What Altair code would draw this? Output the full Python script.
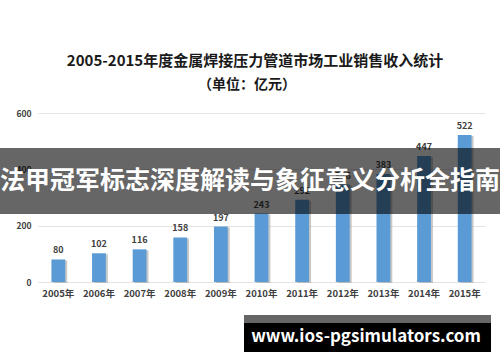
import altair as alt
import pandas as pd

years = ["2005年", "2006年", "2007年", "2008年", "2009年", "2010年",
         "2011年", "2012年", "2013年", "2014年", "2015年"]
values = [80, 102, 116, 158, 197, 243, 292, 346, 383, 447, 522]
y_ticks = [0, 100, 200, 300, 400, 500, 600]

title = "2005-2015年度金属焊接压力管道市场工业销售收入统计"
subtitle = "（单位：亿元）"
banner = "法甲冠军标志深度解读与象征意义分析全指南"
watermark = "www.ios-pgsimulators.com"

FONT = "Noto Sans CJK SC"

df = pd.DataFrame({"year": years, "value": values})

xenc = alt.X("year:N", sort=years,
             scale=alt.Scale(paddingInner=0.66, paddingOuter=0.33),
             axis=alt.Axis(title=None, labelAngle=0, domain=False, ticks=False,
                           labelFont=FONT, labelFontSize=9.5, labelFontWeight="bold",
                           labelColor="#404040", labelPadding=6))
yenc = alt.Y("value:Q", scale=alt.Scale(domain=[0, 600], nice=False),
             axis=alt.Axis(title=None, values=y_ticks, domain=False, ticks=False,
                           labelFont=FONT, labelFontSize=8.5, labelFontWeight="bold",
                           labelColor="#404040", labelPadding=7,
                           gridColor="#e3e3e3", gridWidth=1))

base = alt.Chart(df)

shadow = base.mark_bar(color="#9a9a9a", opacity=0.55, xOffset=2, yOffset=1).encode(
    x=xenc, y=yenc)
bars = base.mark_bar(color="#5B9BD5").encode(x=xenc, y=yenc)
labels = base.mark_text(font=FONT, fontSize=9, fontWeight="bold", color="#404040",
                        baseline="bottom", dy=-4).encode(
    x=alt.X("year:N", sort=years), y="value:Q", text="value:Q")

one = pd.DataFrame({"t": [0]})

def txt(s, x, y, size, weight="bold", color="#262626", align="center"):
    return alt.Chart(pd.DataFrame({"t": [s]})).mark_text(
        font=FONT, fontSize=size, fontWeight=weight, color=color,
        align=align, baseline="middle").encode(
        x=alt.value(x), y=alt.value(y), text="t:N")

def rect(x1, x2, y1, y2, color, opacity=1.0):
    return alt.Chart(one).mark_rect(color=color, opacity=opacity).encode(
        x=alt.value(x1), x2=alt.value(x2), y=alt.value(y1), y2=alt.value(y2))

title_t = txt(title, 217, -52, 15, color="#1a1a1a")
sub_t = txt(subtitle, 209, -28, 14, color="#1a1a1a")
banner_r = rect(-38, 462, 35, 101, "#000000", 0.6)
banner_t = txt(banner, 212, 68, 25, color="#ffffff")
wm_gray = rect(206, 453, 202, 210, "#666666")
wm_black = rect(206, 453, 210, 239, "#000000")
wm_t = txt(watermark, 328, 224, 17, color="#ffffff")

chart = alt.layer(shadow, bars, labels, title_t, sub_t, banner_r, banner_t,
                  wm_gray, wm_black, wm_t).properties(
    width=447, height=169,
    padding={"left": 38, "top": 113, "right": 15, "bottom": 80},
    autosize=alt.AutoSizeParams(type="none"),
    background="white",
).configure_view(stroke=None)

chart.save("out.html", embed_options={"renderer": "svg", "actions": False})
